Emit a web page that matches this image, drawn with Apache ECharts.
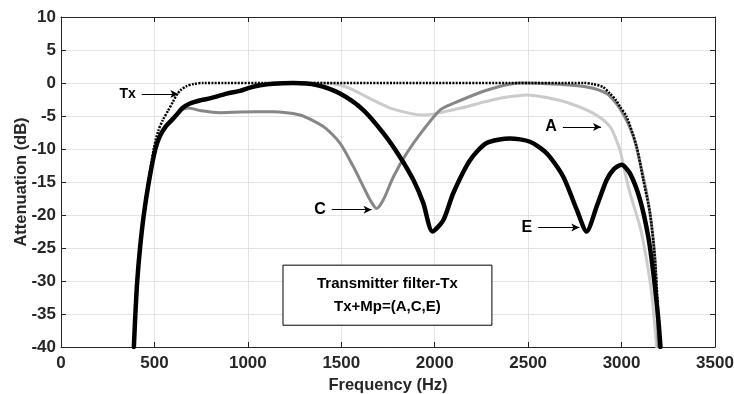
<!DOCTYPE html>
<html><head><meta charset="utf-8">
<script src="https://cdn.jsdelivr.net/npm/echarts@6/dist/echarts.min.js"></script>
<style>html,body{margin:0;padding:0;background:#fff}#c{width:734px;height:394px}</style>
</head><body><div id="c"></div>
<script>
const xTicks = [0,500,1000,1500,2000,2500,3000,3500];
const yTicks = [-40,-35,-30,-25,-20,-15,-10,-5,0,5,10];
const seriesTx = [[390,-40],[398,-35],[408,-30],[423,-25],[443,-20],[468,-15],[496,-10],[520,-7.3],[545,-5.6],[573,-4.2],[600,-2.8],[619,-1.8],[640,-1.1],[670,-0.5],[710,-0.15],[760,0],[1200,0],[1800,0],[2400,0],[2800,0],[2847,-0.15],[2900,-0.6],[2938,-1.6],[2970,-2.6],[2992,-3.6],[3027,-5.1],[3081,-9.65],[3116,-14.7],[3152,-19.7],[3179,-26.8],[3206,-40]];
const seriesA = [[390,-40],[398,-35],[408,-30],[423,-25],[443,-20],[470,-15],[505,-10],[530,-8],[560,-6.6],[590,-5.7],[619,-4.8],[650,-3.8],[690,-3.1],[750,-2.6],[800,-2.3],[887,-1.6],[958,-1.2],[1011,-0.7],[1065,-0.35],[1136,-0.1],[1243,0],[1350,0],[1456,-0.1],[1493,-0.3],[1560,-1],[1636,-2.1],[1700,-3],[1761,-3.8],[1868,-4.6],[1937,-4.85],[2011,-4.6],[2090,-4.1],[2171,-3.6],[2260,-2.9],[2349,-2.3],[2420,-2],[2492,-1.8],[2600,-2.2],[2724,-3.1],[2849,-4.6],[2938,-6.6],[2990,-10],[3010,-12.5],[3045,-16.7],[3099,-21.8],[3134,-26.8],[3161,-31.9],[3188,-40]];
const seriesC = [[390,-40],[398,-35],[408,-30],[423,-25],[443,-20],[470,-15],[505,-10],[530,-8],[560,-6.6],[590,-5.7],[619,-4.8],[645,-4.1],[680,-3.8],[750,-4.2],[850,-4.5],[958,-4.4],[1136,-4.35],[1279,-4.85],[1404,-6.6],[1493,-9.1],[1565,-12.7],[1618,-15.7],[1654,-17.7],[1689,-19],[1725,-17.7],[1779,-14.2],[1850,-10.65],[1939,-7.1],[2028,-4.1],[2099,-3.1],[2278,-1.1],[2456,0],[2635,-0.15],[2813,-0.6],[2920,-1.6],[2992,-3.9],[3063,-8.1],[3116,-14.2],[3152,-19.7],[3179,-26.8],[3197,-40]];
const seriesE = [[390,-40],[398,-35],[408,-30],[423,-25],[443,-20],[470,-15],[505,-10],[530,-8],[560,-6.6],[590,-5.7],[619,-4.8],[650,-3.8],[690,-3.1],[750,-2.6],[800,-2.3],[887,-1.6],[958,-1.2],[1011,-0.7],[1065,-0.35],[1136,-0.1],[1243,0],[1368,-0.3],[1493,-1.6],[1618,-4.1],[1725,-7.6],[1814,-11.2],[1886,-14.7],[1939,-18.2],[1988,-22.5],[2046,-20.8],[2099,-16.7],[2189,-11.7],[2278,-9.1],[2403,-8.4],[2510,-8.9],[2599,-10.65],[2688,-14.2],[2760,-19.2],[2813,-22.5],[2867,-18.7],[2920,-14.7],[2960,-13],[3000,-12.4],[3045,-13.7],[3099,-17.7],[3143,-23.3],[3170,-28.8],[3197,-35.9],[3208,-40]];
const labels = [
  {text:'Tx', from:[432,-1.67], to:[628,-1.67], size:14},
  {text:'A', from:[2686,-6.67], to:[2890,-6.67], size:16},
  {text:'C', from:[1449,-19.2], to:[1662,-19.2], size:16},
  {text:'E', from:[2554,-21.9], to:[2774,-21.9], size:16}
];
const boxLines = ['Transmitter filter-Tx','Tx+Mp=(A,C,E)'];
const boxCorners = [[1188,-27.6],[2306,-36.7]];

const chart = echarts.init(document.getElementById('c'));
const FONT = 'Liberation Sans, Arial, sans-serif';
function axisCommon(){ return {
  axisLine:{show:true,onZero:false,lineStyle:{color:'#262626',width:1}},
  axisTick:{show:true,inside:true,length:5,lineStyle:{color:'#262626'}}
};}
function mkSeries(name,data,color,width,type,z,cap){
  return {name,type:'line',data,showSymbol:false,symbol:'none',smooth:0.25,
    lineStyle:{color,width,type:type||'solid',join:'round',cap:cap||'round'},z,clip:true,animation:false};
}
const ann = {
  type:'line',data:[],silent:true,z:10,animation:false,
  markLine:{silent:true,animation:false,symbol:['none','arrow'],symbolSize:[6,8],
    lineStyle:{color:'#000',width:1,type:'solid'},
    data: labels.map(l=>[{coord:l.from,name:l.text,label:{show:true,position:'start',distance:6,color:'#000',fontFamily:FONT,fontWeight:'bold',fontSize:l.size,formatter:l.text}},{coord:l.to}])
  }
};
const opt = {
  backgroundColor:'#fff',
  animation:false,
  grid:{left:61,right:19,top:17,bottom:47,outerBoundsMode:'none',containLabel:false},
  xAxis:[Object.assign({type:'value',min:0,max:3500,interval:500,position:'bottom',
      name:'Frequency (Hz)',nameLocation:'middle',nameGap:28,
      nameTextStyle:{fontFamily:FONT,fontWeight:'bold',fontSize:16.5,color:'#262626'},
      axisLabel:{fontFamily:FONT,fontWeight:'bold',fontSize:17,color:'#262626',margin:8,formatter:v=>String(v)},
      splitLine:{show:true,lineStyle:{color:'#e3e3e3',width:1}}},axisCommon()),
    Object.assign({type:'value',min:0,max:3500,interval:500,position:'top',axisLabel:{show:false},splitLine:{show:false}},axisCommon())],
  yAxis:[Object.assign({type:'value',min:-40,max:10,interval:5,position:'left',
      name:'Attenuation (dB)',nameLocation:'middle',nameGap:31,nameMoveOverlap:false,
      nameTextStyle:{fontFamily:FONT,fontWeight:'bold',fontSize:16.5,color:'#262626'},
      axisLabel:{fontFamily:FONT,fontWeight:'bold',fontSize:17,color:'#262626',margin:5,formatter:v=>String(v)},
      splitLine:{show:true,lineStyle:{color:'#e3e3e3',width:1}}},axisCommon()),
    Object.assign({type:'value',min:-40,max:10,interval:5,position:'right',axisLabel:{show:false},splitLine:{show:false}},axisCommon())],
  series:[
    mkSeries('A',seriesA,'#cbcbcb',3,'solid',2),
    mkSeries('C',seriesC,'#878787',3,'solid',3),
    mkSeries('E',seriesE,'#000000',4.5,'solid',4),
    mkSeries('Tx',seriesTx,'#000000',2.5,[2,1.3],5,'butt'),
    ann
  ]
};
chart.setOption(opt);
const p1 = chart.convertToPixel({gridIndex:0},boxCorners[0]);
const p2 = chart.convertToPixel({gridIndex:0},boxCorners[1]);
chart.setOption({graphic:[
  {type:'rect',shape:{x:p1[0],y:p1[1],width:p2[0]-p1[0],height:p2[1]-p1[1]},style:{fill:'#fff',stroke:'#000',lineWidth:1},z:20},
  {type:'text',x:(p1[0]+p2[0])/2,y:p1[1]+7,style:{text:boxLines.join('\n'),fill:'#000',font:'bold 15px '+FONT,textAlign:'center',textVerticalAlign:'top',lineHeight:23},z:21}
]});
</script></body></html>
